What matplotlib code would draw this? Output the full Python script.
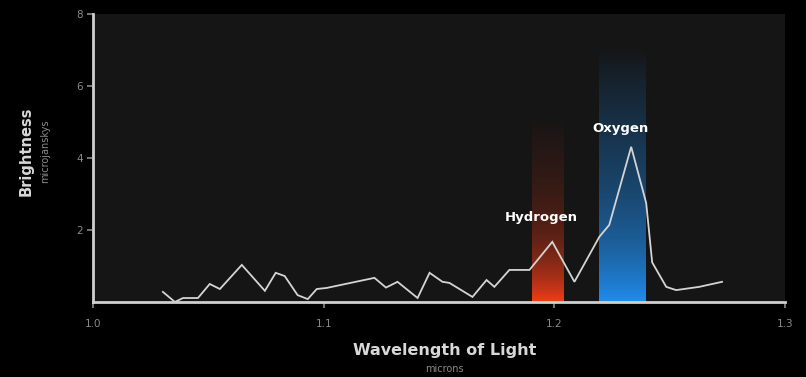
import numpy as np
import matplotlib
matplotlib.use("Agg")
import matplotlib.pyplot as plt

# Spectrum samples: wavelength (microns) and brightness (microjanskys)
wavelength = [1.0303, 1.0355, 1.0390, 1.0455, 1.0506, 1.0550, 1.0645, 1.0745,
              1.0792, 1.0831, 1.0887, 1.0931, 1.0970, 1.1013, 1.1220, 1.1270,
              1.1320, 1.1407, 1.1459, 1.1515, 1.1545, 1.1645, 1.1706, 1.1740,
              1.1805, 1.1892, 1.1991, 1.2087, 1.2195, 1.2238, 1.2333, 1.2398,
              1.2424, 1.2485, 1.2528, 1.2628, 1.2727]
brightness = [0.28, 0.00, 0.11, 0.11, 0.50, 0.36, 1.03, 0.31,
              0.81, 0.72, 0.19, 0.08, 0.36, 0.39, 0.67, 0.40,
              0.56, 0.11, 0.81, 0.56, 0.53, 0.14, 0.61, 0.42,
              0.89, 0.89, 1.67, 0.56, 1.81, 2.14, 4.31, 2.75,
              1.10, 0.42, 0.33, 0.42, 0.56]

# Emission bands: name, edges, top, colour, base glow, label position
band_names = ["Hydrogen", "Oxygen"]
band_left = [1.1905, 1.2195]
band_right = [1.2043, 1.2398]
band_top = [5.1, 7.0]
band_colors = [(1.0, 0.25, 0.10), (0.13, 0.58, 0.98)]
band_glow = [0.3, 0.6]
label_x = [1.1944, 1.2285]
label_y = [2.36, 4.83]

x_ticks = [1.0, 1.1, 1.2, 1.3]
x_tick_labels = ["1.0", "1.1", "1.2", "1.3"]
y_ticks = [2, 4, 6, 8]
y_tick_labels = ["2", "4", "6", "8"]

fig = plt.figure(figsize=(8.06, 3.77), dpi=100, facecolor="black")
ax = fig.add_axes([0.1154, 0.199, 0.8586, 0.764])
ax.set_facecolor("#151515")
ax.set_xlim(1.0, 1.3)
ax.set_ylim(0, 8)

# Vertical gradient bands, bright at the bottom and fading upward
n = 256
f = np.linspace(0, 1, n)                     # 0 at bottom row, 1 at top
for left, right, top, col, glow in zip(band_left, band_right, band_top,
                                       band_colors, band_glow):
    alpha = glow * (1 - f) ** 0.8 + (1 - glow) * (1 - f) ** 4
    img = np.zeros((n, 1, 4))
    img[:, 0, 0] = col[0]
    img[:, 0, 1] = col[1]
    img[:, 0, 2] = col[2]
    img[:, 0, 3] = np.clip(alpha, 0, 1) * 0.95
    ax.imshow(img, extent=[left, right, 0, top], origin="lower",
              aspect="auto", interpolation="bicubic", zorder=1)

ax.plot(wavelength, brightness, color="#d4d4d4", lw=1.3, zorder=3,
        solid_joinstyle="miter")

for name, lx, ly in zip(band_names, label_x, label_y):
    ax.text(lx, ly, name, color="white", fontsize=9.5, fontweight="bold",
            ha="center", va="center", zorder=4)

for side in ("top", "right"):
    ax.spines[side].set_visible(False)
for side in ("left", "bottom"):
    ax.spines[side].set_color("#cfcfcf")
    ax.spines[side].set_linewidth(2)

ax.set_xticks(x_ticks)
ax.set_xticklabels(x_tick_labels)
ax.set_yticks(y_ticks)
ax.set_yticklabels(y_tick_labels)
ax.tick_params(colors="#8a8a8a", labelsize=7.5, length=4, width=1.2,
               direction="out")
ax.tick_params(axis="x", pad=8)
ax.tick_params(axis="y", pad=3)

fig.text(0.032, 0.60, "Brightness", rotation=90, color="#d8d8d8",
         fontsize=10.5, fontweight="bold", ha="center", va="center")
fig.text(0.056, 0.60, "microjanskys", rotation=90, color="#8a8a8a",
         fontsize=7, ha="center", va="center")
fig.text(0.552, 0.070, "Wavelength of Light", color="#d8d8d8",
         fontsize=11.5, fontweight="bold", ha="center", va="center")
fig.text(0.552, 0.020, "microns", color="#8a8a8a", fontsize=7,
         ha="center", va="center")

fig.savefig("out.png", dpi=100, facecolor="black")
